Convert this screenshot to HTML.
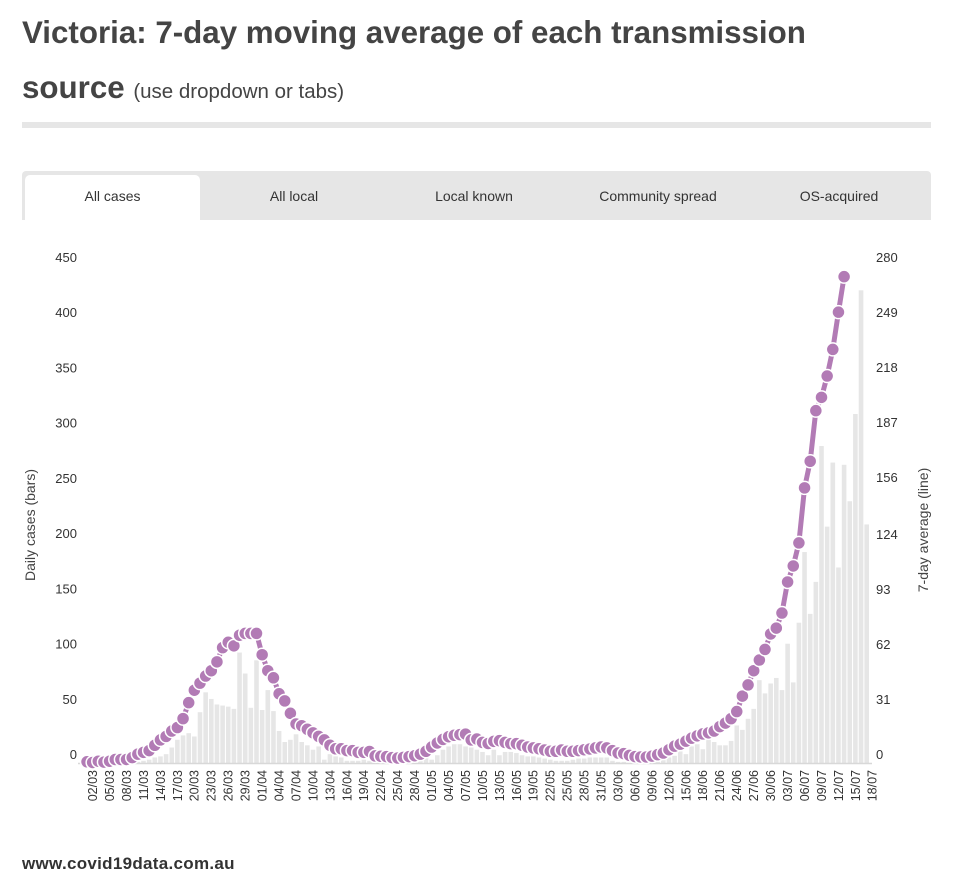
<!DOCTYPE html>
<html><head><meta charset="utf-8"><style>
body{margin:0;background:#fff;font-family:"Liberation Sans",sans-serif;color:#444;}
#wrap{position:relative;width:961px;height:889px;overflow:hidden;}
.title{position:absolute;left:22px;font-weight:bold;font-size:31.3px;color:#444;white-space:nowrap;}
.sub{font-weight:normal;font-size:20.5px;}
.rule{position:absolute;left:22px;top:122px;width:909px;height:6px;background:#e6e6e6;}
.tabs{position:absolute;left:22px;top:171px;width:909px;height:49px;background:#e6e6e6;border-radius:4px 4px 0 0;}
.tab{position:absolute;top:4px;height:45px;line-height:42px;text-align:center;font-size:14px;color:#333;}
.tab.active{background:#fff;border-radius:5px 5px 0 0;}
.foot{position:absolute;left:22px;top:854px;font-size:17px;font-weight:bold;color:#333;letter-spacing:0.3px;}
svg text{font-family:"Liberation Sans",sans-serif;}
</style></head><body><div id="wrap">
<div class="title" style="top:15px">Victoria: 7-day moving average of each transmission</div>
<div class="title" style="top:70px">source <span class="sub">(use dropdown or tabs)</span></div>
<div class="rule"></div>
<div class="tabs">
<div class="tab active" style="left:3px;width:175px">All cases</div>
<div class="tab" style="left:182px;width:180px">All local</div>
<div class="tab" style="left:362px;width:180px">Local known</div>
<div class="tab" style="left:545px;width:182px">Community spread</div>
<div class="tab" style="left:727px;width:180px">OS-acquired</div>
</div>
<svg id="chart" width="961" height="889" style="position:absolute;left:0;top:0"></svg>
<div class="foot">www.covid19data.com.au</div>
</div>
<script>
const startDay = [2, 3, 2020];
const bars = [0,0,0,0,0,0,1,1,1,1,2,3,5,6,8,14,21,25,27,24,46,64,58,53,52,51,49,100,81,50,93,48,66,47,29,19,21,26,19,16,12,15,3,8,6,5,2,2,2,3,2,2,1,1,2,1,1,1,1,2,5,3,7,12,15,17,17,15,14,12,10,7,12,7,10,10,9,7,6,6,5,4,3,2,2,2,3,4,4,5,5,5,5,2,1,1,0,0,1,1,1,1,2.6,5,6.5,10.5,8,15,17,12.5,21,19,16,16,20,34,30,40,49,75,63,72,77,66,108,73,127,191,135,164,287,214,272,177,270,237,316,428,216];
const avg = [0.7,0.3,1,0.5,1,2,2,2,3,5,6,7,10,13,15,18,20,25,34,41,45,49,52,57,65,68,66,72,73,73,73,61,52,48,39,35,28,22,21,19,17,15,13,10,8,8,7,7,6,6,6.5,4,3.8,3.6,3,2.8,3.2,3.6,4.1,5,6.6,9,11.3,13.3,14.8,15.6,16,16.3,13,13.5,11.6,11,12.2,12.6,11.6,10.9,10.9,10,9,8.5,8,7.3,6.6,6.6,7.3,6.6,6.6,7,7.5,7.9,8.5,9,8.5,7,5.6,5.3,4.3,3.6,3.4,3.4,3.9,4.7,5.6,7.5,9.5,10.6,12.3,14,15.3,16.4,17,18,20.5,22.5,25,29,37.7,44,52,58,64,72.7,76,84.5,102,111,124,155,170,198.5,206,218,233,254,274];
const leftTicks = [0,50,100,150,200,250,300,350,400,450];
const rightTicks = [0,31,62,93,124,156,187,218,249,280];
const LMAX=450, RMAX=280;
const NS="http://www.w3.org/2000/svg";
const svg=document.getElementById('chart');
const X0=87, DX=5.65, Y0=763, H=497;
function xs(i){return X0+i*DX;}
function yl(v){return Y0-v/LMAX*H;}
function yr(v){return Y0-v/RMAX*H;}
function mk(tag,attrs){const e=document.createElementNS(NS,tag);for(const k in attrs)e.setAttribute(k,attrs[k]);svg.appendChild(e);return e;}
function txt(x,y,s,extra){const t=mk('text',Object.assign({x:x,y:y,'font-size':13,fill:'#333'},extra||{}));t.textContent=s;return t;}
leftTicks.forEach(v=>{const t=txt(77,yl(v)-4,String(v),{'text-anchor':'end'});

});
rightTicks.forEach(v=>{const t=txt(876,yr(v)-4,String(v),{'text-anchor':'start'});

});
let t1=txt(0,0,'Daily cases (bars)',{'text-anchor':'middle',transform:'translate(35,525) rotate(-90)','font-size':14,fill:'#444'});


let t2=txt(0,0,'7-day average (line)',{'text-anchor':'middle',transform:'translate(928,530) rotate(-90)','font-size':14,fill:'#444'});


bars.forEach((v,i)=>{const h=v/LMAX*H;const r=mk('rect',{x:xs(i)-2.3,y:Y0-h,width:4.6,height:h,fill:'#e6e6e6'});

});
const base=mk('line',{x1:78,x2:872,y1:Y0+0.5,y2:Y0+0.5,stroke:'#d8d8d8','stroke-width':1.5});


const pts=avg.map((v,i)=>xs(i)+','+yr(v)).join(' ');
const pl=mk('polyline',{points:pts,fill:'none',stroke:'#b27bb5','stroke-width':5});


avg.forEach((v,i)=>{const c=mk('circle',{cx:xs(i),cy:yr(v),r:6.5,fill:'#b27bb5',stroke:'#fff','stroke-width':1.5});

});
const d0=new Date(startDay[2],startDay[1]-1,startDay[0]);
for(let i=0;i<bars.length;i+=3){const d=new Date(d0.getTime()+i*86400000+3600000*12);
const s=String(d.getDate()).padStart(2,'0')+'/'+String(d.getMonth()+1).padStart(2,'0');
const t=txt(0,0,s,{'text-anchor':'end',transform:'translate('+(xs(i)+10)+',770) rotate(-90)','font-size':12.5,fill:'#333'});

}
</script></body></html>
